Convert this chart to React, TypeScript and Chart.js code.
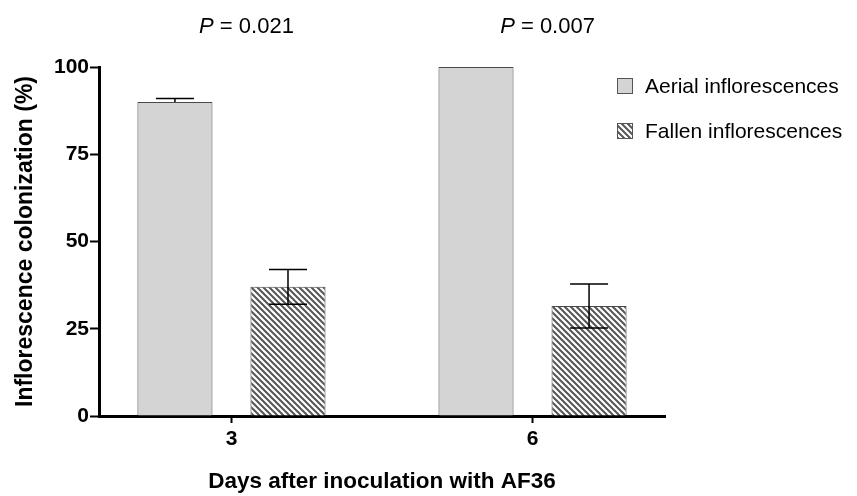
import React, { useEffect, useRef } from 'react';
import { Chart, registerables } from 'chart.js';

Chart.register(...registerables);

// ---- data ----
const days = [3, 6];
const dayLabels = ['3', '6'];
const aerialMeans = [90, 100];
const aerialErrUp = [1, 0];
const aerialErrDown = [0, 0];
const fallenMeans = [37, 31.5];
const fallenErrUp = [5, 6.3];
const fallenErrDown = [5, 6.3];
const pValues = ['0.021', '0.007'];
const yTicks = [0, 25, 50, 75, 100];
const seriesNames = ['Aerial inflorescences', 'Fallen inflorescences'];

const FONT = '"Liberation Sans", Arial, Helvetica, sans-serif';

function makeHatch(): CanvasPattern | string {
  const c = document.createElement('canvas');
  c.width = 6;
  c.height = 6;
  const g = c.getContext('2d');
  if (!g) return '#888';
  g.fillStyle = '#ffffff';
  g.fillRect(0, 0, 6, 6);
  g.strokeStyle = '#555555';
  g.lineWidth = 2;
  g.beginPath();
  g.moveTo(-3, -3);
  g.lineTo(9, 9);
  g.moveTo(-3, 3);
  g.lineTo(3, 9);
  g.moveTo(3, -3);
  g.lineTo(9, 3);
  g.stroke();
  return g.createPattern(c, 'repeat') || '#888';
}

const errorBarsPlugin = {
  id: 'errorBars',
  afterDatasetsDraw(chart: any) {
    const ctx = chart.ctx;
    const ys = chart.scales.y;
    chart.data.datasets.forEach((ds: any, di: number) => {
      const meta = chart.getDatasetMeta(di);
      meta.data.forEach((bar: any, i: number) => {
        const v = ds.data[i].y;
        const up = ds.errUp[i];
        const down = ds.errDown[i];
        const x = bar.x;
        const half = 19;
        ctx.save();
        ctx.strokeStyle = '#000';
        ctx.lineWidth = 1.5;
        ctx.beginPath();
        if (up > 0) {
          const y0 = ys.getPixelForValue(v);
          const y1 = ys.getPixelForValue(v + up);
          ctx.moveTo(x, y0);
          ctx.lineTo(x, y1);
          ctx.moveTo(x - half, y1);
          ctx.lineTo(x + half, y1);
        }
        if (down > 0) {
          const y0 = ys.getPixelForValue(v);
          const y1 = ys.getPixelForValue(v - down);
          ctx.moveTo(x, y0);
          ctx.lineTo(x, y1);
          ctx.moveTo(x - half, y1);
          ctx.lineTo(x + half, y1);
        }
        ctx.stroke();
        ctx.restore();
      });
    });
  },
};

const pLabelPlugin = {
  id: 'pLabels',
  afterDraw(chart: any) {
    const ctx = chart.ctx;
    const xs = chart.scales.x;
    ctx.save();
    ctx.fillStyle = '#000';
    ctx.textBaseline = 'middle';
    ctx.textAlign = 'left';
    days.forEach((d, i) => {
      const italic = `italic 22px ${FONT}`;
      const normal = `22px ${FONT}`;
      ctx.font = italic;
      const wP = ctx.measureText('P').width;
      ctx.font = normal;
      const rest = ` = ${pValues[i]}`;
      const wR = ctx.measureText(rest).width;
      const cx = xs.getPixelForValue(d) + 15;
      const x0 = cx - (wP + wR) / 2;
      const y = 27;
      ctx.font = italic;
      ctx.fillText('P', x0, y);
      ctx.font = normal;
      ctx.fillText(rest, x0 + wP, y);
    });
    ctx.restore();
  },
};

const legendPlugin = {
  id: 'customLegend',
  afterDraw(chart: any) {
    const ctx = chart.ctx;
    ctx.save();
    chart.data.datasets.forEach((ds: any, i: number) => {
      const bx = 617;
      const by = 78 + i * 45;
      ctx.fillStyle = ds.backgroundColor;
      ctx.fillRect(bx, by, 16, 16);
      ctx.strokeStyle = '#555';
      ctx.lineWidth = 1;
      ctx.strokeRect(bx + 0.5, by + 0.5, 15, 15);
      ctx.fillStyle = '#000';
      ctx.font = `21px ${FONT}`;
      ctx.textBaseline = 'middle';
      ctx.textAlign = 'left';
      ctx.fillText(ds.label, bx + 28, by + 9);
    });
    ctx.restore();
  },
};

export default function App() {
  const ref = useRef<HTMLCanvasElement | null>(null);

  useEffect(() => {
    if (!ref.current) return;
    const hatch = makeHatch();
    const chart = new Chart(ref.current, {
      type: 'bar',
      data: {
        datasets: [
          {
            label: seriesNames[0],
            data: days.map((d, i) => ({ x: d, y: aerialMeans[i] })),
            backgroundColor: '#d4d4d4',
            borderColor: '#4a4a4a',
            borderWidth: 1,
            errUp: aerialErrUp,
            errDown: aerialErrDown,
          } as any,
          {
            label: seriesNames[1],
            data: days.map((d, i) => ({ x: d, y: fallenMeans[i] })),
            backgroundColor: hatch,
            borderColor: '#4a4a4a',
            borderWidth: 1,
            errUp: fallenErrUp,
            errDown: fallenErrDown,
          } as any,
        ],
      },
      options: {
        animation: false,
        responsive: false,
        devicePixelRatio: 1,
        datasets: {
          bar: { categoryPercentage: 0.751, barPercentage: 0.664 },
        },
        layout: { padding: { top: 67, right: 192, bottom: 0, left: 0 } },
        plugins: {
          legend: { display: false },
          tooltip: { enabled: false },
        },
        scales: {
          x: {
            type: 'linear',
            min: 1.68,
            max: 7.32,
            offset: false,
            afterBuildTicks: (s: any) => {
              s.ticks = days.map((v) => ({ value: v }));
            },
            afterFit: (s: any) => {
              s.height = 80;
            },
            ticks: {
              autoSkip: false,
              maxRotation: 0,
              padding: 4,
              color: '#000',
              font: { family: FONT, size: 21, weight: 'bold' },
              callback: (v: any) => {
                const idx = days.indexOf(Number(v));
                return idx >= 0 ? dayLabels[idx] : '';
              },
            },
            grid: {
              display: true,
              offset: false,
              drawOnChartArea: false,
              drawTicks: true,
              tickLength: 7,
              tickWidth: 2,
              tickColor: '#000',
            },
            border: { display: true, color: '#000', width: 3 },
            title: {
              display: true,
              text: 'Days after inoculation with AF36',
              color: '#000',
              font: { family: FONT, size: 22.5, weight: 'bold' },
              padding: { top: 0, bottom: 1 },
            },
          } as any,
          y: {
            type: 'linear',
            min: 0,
            max: 100,
            afterBuildTicks: (s: any) => {
              s.ticks = yTicks.map((v) => ({ value: v }));
            },
            afterFit: (s: any) => {
              s.width = 99;
            },
            ticks: {
              padding: 1,
              color: '#000',
              font: { family: FONT, size: 21, weight: 'bold' },
            },
            grid: {
              display: true,
              drawOnChartArea: false,
              drawTicks: true,
              tickLength: 9,
              tickWidth: 2,
              tickColor: '#000',
            },
            border: { display: true, color: '#000', width: 3 },
            title: {
              display: true,
              text: 'Inflorescence colonization (%)',
              color: '#000',
              font: { family: FONT, size: 23, weight: 'bold' },
              padding: { top: 12, bottom: 0 },
            },
          } as any,
        },
      },
      plugins: [errorBarsPlugin, pLabelPlugin, legendPlugin],
    });
    return () => chart.destroy();
  }, []);

  return (
    <div style={{ position: 'fixed', left: 0, top: 0, width: 857, height: 496, background: '#fff' }}>
      <canvas ref={ref} width={857} height={496} style={{ display: 'block', width: 857, height: 496 }} />
    </div>
  );
}
